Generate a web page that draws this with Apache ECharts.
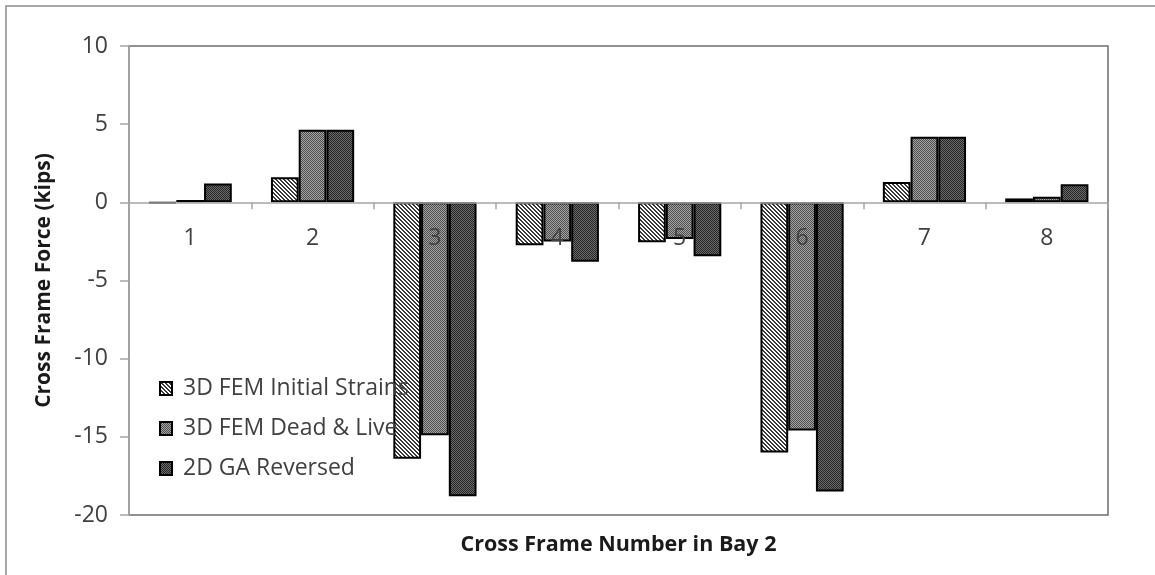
<!DOCTYPE html>
<html>
<head>
<meta charset="utf-8">
<script src="https://cdn.jsdelivr.net/npm/echarts@6/dist/echarts.min.js"></script>
<style>
  html, body { margin: 0; padding: 0; background: #fff; }
  #chart { width: 1155px; height: 575px; }
</style>
</head>
<body>
<div id="chart"></div>
<script>
// Cross frame forces for the eight cross frames in bay 2 (kips)
const categories = ['1', '2', '3', '4', '5', '6', '7', '8'];
const seriesNames = ['3D FEM Initial Strains', '3D FEM Dead & Live', '2D GA Reversed'];
const initialStrains = [-0.05, 1.6, -16.4, -2.75, -2.55, -16.0, 1.3, 0.25];
const deadLive = [0.15, 4.65, -14.9, -2.5, -2.35, -14.6, 4.2, 0.35];
const gaReversed = [1.2, 4.65, -18.8, -3.8, -3.45, -18.5, 4.2, 1.15];
const yTicks = { min: -20, max: 10, step: 5 };

const FONT = '"Open Sans", "DejaVu Sans", sans-serif';

// Plot box in pixels; the category axis sits on the zero line
const PLOT = { left: 129, right: 47, top: 46, bottom: 60 };
const plotHeight = 575 - PLOT.top - PLOT.bottom;
const zeroFromBottom = plotHeight * (0 - yTicks.min) / (yTicks.max - yTicks.min);

// Small repeating fill tiles: diagonal hatch and two dotted greys
function hatchTile() {
  const c = document.createElement('canvas');
  c.width = 4; c.height = 4;
  const g = c.getContext('2d');
  g.fillStyle = '#ffffff';
  g.fillRect(0, 0, 4, 4);
  g.fillStyle = '#3a3a3a';
  for (let y = 0; y < 4; y++) {
    for (let x = 0; x < 4; x++) {
      const d = ((x - y) % 4 + 4) % 4;
      if (d === 0 || d === 1) g.fillRect(x, y, 1, 1);
    }
  }
  return c;
}
function dotTile(light, dark) {
  const c = document.createElement('canvas');
  c.width = 2; c.height = 2;
  const g = c.getContext('2d');
  g.fillStyle = light; g.fillRect(0, 0, 2, 2);
  g.fillStyle = dark; g.fillRect(0, 0, 1, 1); g.fillRect(1, 1, 1, 1);
  return c;
}

const fills = [
  { image: hatchTile(), repeat: 'repeat' },
  { image: dotTile('#a4a4a4', '#4e4e4e'), repeat: 'repeat' },
  { image: dotTile('#6a6a6a', '#262626'), repeat: 'repeat' }
];

const values = [initialStrains, deadLive, gaReversed];

const chart = echarts.init(document.getElementById('chart'), null, { renderer: 'canvas' });

chart.setOption({
  animation: false,
  backgroundColor: '#ffffff',
  graphic: [{
    type: 'rect',
    shape: { x: 6, y: 6, width: 1160, height: 580 },
    style: { fill: 'none', stroke: '#8c8c8c', lineWidth: 1.5 },
    silent: true
  }],
  grid: {
    left: PLOT.left, right: PLOT.right, top: PLOT.top, bottom: PLOT.bottom,
    containLabel: false,
    outerBoundsMode: 'none',
    show: true, borderColor: '#6e6e6e', borderWidth: 1.5, backgroundColor: 'transparent'
  },
  legend: {
    orient: 'vertical',
    left: 159, top: 377,
    padding: 0,
    itemWidth: 12, itemHeight: 13, itemGap: 17,
    icon: 'rect',
    textStyle: { fontFamily: FONT, fontSize: 23, color: '#404040', padding: [0, 0, 0, 6] },
    data: seriesNames
  },
  xAxis: {
    type: 'category',
    data: categories,
    position: 'bottom',
    offset: -zeroFromBottom,
    z: 10,
    axisLine: { onZero: false, lineStyle: { color: '#a6a6a6', width: 1.5 } },
    axisTick: { show: true, length: 7, inside: false, lineStyle: { color: '#a6a6a6', width: 1.5 } },
    axisLabel: { margin: 25, fontFamily: FONT, fontSize: 23, color: '#404040' },
    splitLine: { show: false },
    name: 'Cross Frame Number in Bay 2',
    nameLocation: 'middle',
    nameGap: 332,
    nameTextStyle: { fontFamily: FONT, fontSize: 21.5, fontWeight: 'bold', color: '#1a1a1a' }
  },
  yAxis: {
    type: 'value',
    min: yTicks.min, max: yTicks.max, interval: yTicks.step,
    axisLine: { show: true, lineStyle: { color: '#a6a6a6', width: 1.5 } },
    axisTick: { show: true, length: 9, lineStyle: { color: '#a6a6a6', width: 1.5 } },
    axisLabel: { margin: 21, fontFamily: FONT, fontSize: 23, color: '#404040' },
    splitLine: { show: false },
    name: 'Cross Frame Force (kips)',
    nameLocation: 'middle',
    nameGap: 74,
    nameTextStyle: { fontFamily: FONT, fontSize: 21, fontWeight: 'bold', color: '#1a1a1a' }
  },
  series: seriesNames.map((name, i) => ({
    name: name,
    type: 'bar',
    data: values[i],
    barGap: '0%',
    barCategoryGap: '32%',
    itemStyle: { color: fills[i], borderColor: '#000000', borderWidth: 2 }
  }))
});
</script>
</body>
</html>
